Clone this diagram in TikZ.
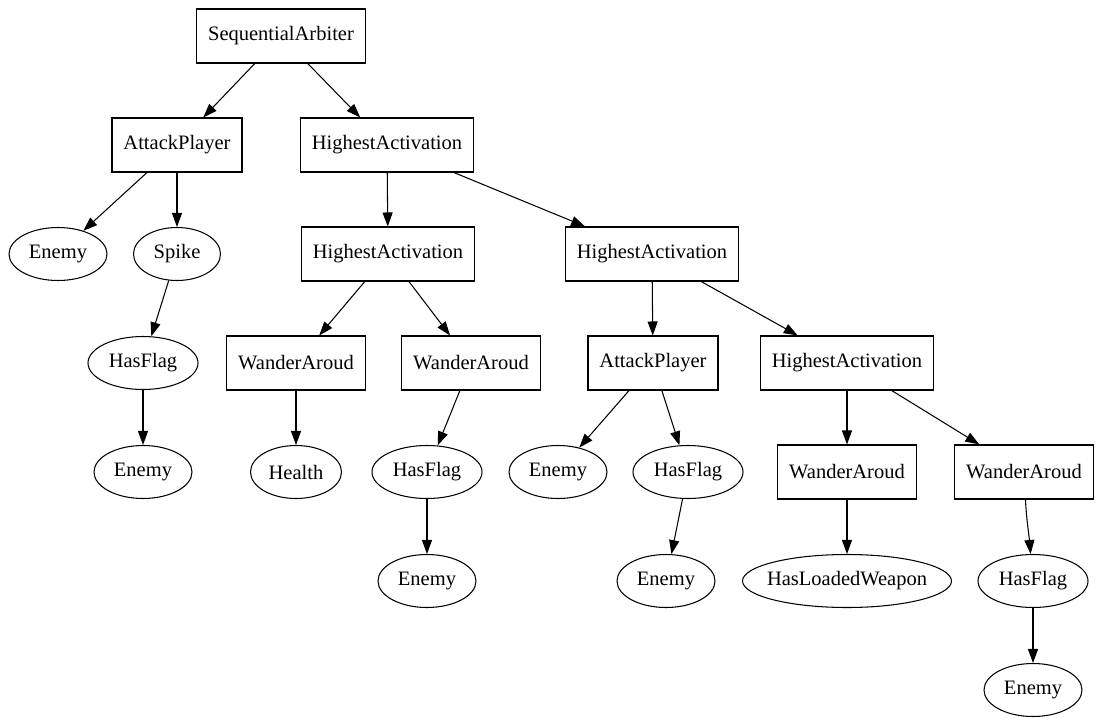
\documentclass[tikz,border=0pt]{standalone}
\usepackage{fontspec}
\setmainfont{Liberation Serif}
\usetikzlibrary{shapes.geometric,arrows.meta}
\begin{document}
\begin{tikzpicture}[x=1pt, y=-1pt, line width=1.05pt,
    box/.style={rectangle, draw, minimum height=54pt, inner xsep=11.5pt, font=\fontsize{20.5}{24}\selectfont},
    leaf/.style={ellipse, draw, minimum height=53pt, minimum width=#1, inner xsep=-8pt, inner ysep=0pt, font=\fontsize{20.5}{24}\selectfont},
    leaf/.default=98pt,
    edge/.style={-{Triangle[length=14pt,width=10pt]}}]
    \useasboundingbox (0,0) rectangle (1096,718);
    % Nodes
    \node (arbiter) [box] at (281,36) {SequentialArbiter};
    \node (attack1) [box] at (177,145) {AttackPlayer};
    \node (high1) [box] at (387,145) {HighestActivation};
    \node (enemy1) [leaf] at (58,254) {Enemy};
    \node (spike) [leaf=87pt] at (177,254) {Spike};
    \node (flag1) [leaf=110pt] at (143,363) {HasFlag};
    \node (enemy2) [leaf] at (143,472) {Enemy};
    \node (high2) [box] at (388,254) {HighestActivation};
    \node (high3) [box] at (652,254) {HighestActivation};
    \node (wander1) [box] at (296,363) {WanderAroud};
    \node (wander2) [box] at (471,363) {WanderAroud};
    \node (health) [leaf=91pt] at (296,472) {Health};
    \node (flag2) [leaf=110pt] at (427,472) {HasFlag};
    \node (enemy3) [leaf] at (427,581) {Enemy};
    \node (attack2) [box] at (653,363) {AttackPlayer};
    \node (high4) [box] at (847,363) {HighestActivation};
    \node (enemy4) [leaf] at (558,472) {Enemy};
    \node (flag3) [leaf=110pt] at (688,472) {HasFlag};
    \node (enemy5) [leaf] at (666,581) {Enemy};
    \node (wander3) [box] at (847,472) {WanderAroud};
    \node (wander4) [box] at (1024,472) {WanderAroud};
    \node (loaded) [leaf=209pt] at (847,581) {HasLoadedWeapon};
    \node (flag4) [leaf=110pt] at (1033,581) {HasFlag};
    \node (enemy6) [leaf] at (1033,690) {Enemy};

    % Arrows
    \draw[edge] (arbiter) -- (attack1);
    \draw[edge] (arbiter) -- (high1);
    \draw[edge] (attack1) -- (enemy1);
    \draw[edge] (attack1) -- (spike);
    \draw[edge] (spike) -- (flag1);
    \draw[edge] (flag1) -- (enemy2);
    \draw[edge] (high1) -- (high2);
    \draw[edge] (high1) -- (high3);
    \draw[edge] (high2) -- (wander1);
    \draw[edge] (high2) -- (wander2);
    \draw[edge] (wander1) -- (health);
    \draw[edge] (wander2) -- (flag2);
    \draw[edge] (flag2) -- (enemy3);
    \draw[edge] (high3) -- (attack2);
    \draw[edge] (high3) -- (high4);
    \draw[edge] (attack2) -- (enemy4);
    \draw[edge] (attack2) -- (flag3);
    \draw[edge] (flag3) -- (enemy5);
    \draw[edge] (high4) -- (wander3);
    \draw[edge] (high4) -- (wander4);
    \draw[edge] (wander3) -- (loaded);
    \draw[edge] (wander4) to[out=-87, in=95] (flag4);
    \draw[edge] (flag4) -- (enemy6);
  \end{tikzpicture}
\end{document}
